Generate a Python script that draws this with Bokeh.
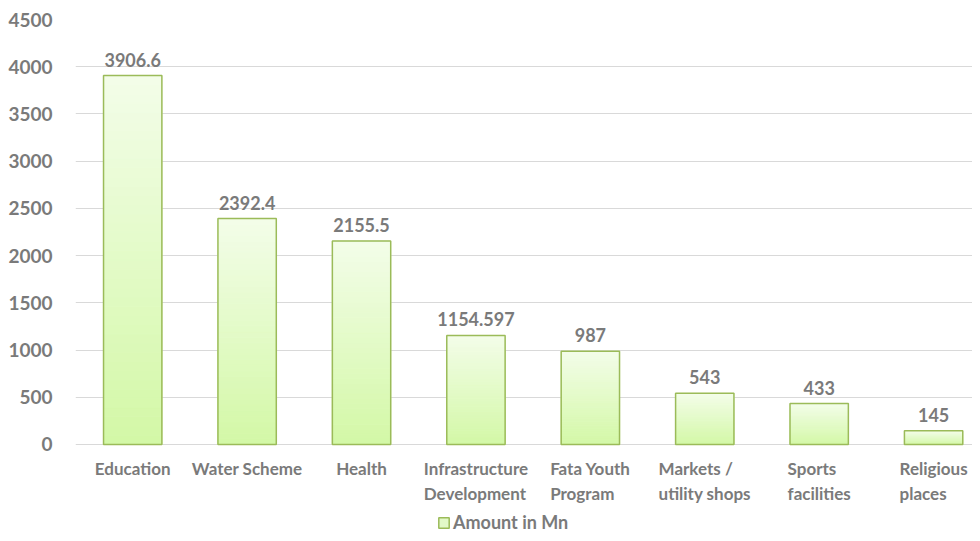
import numpy as np
from bokeh.plotting import figure
from bokeh.models import ColumnDataSource, Range1d, FixedTicker, Legend, LegendItem, LabelSet
from bokeh.core.properties import value
from bokeh.embed import file_html
from bokeh.resources import INLINE

categories = ["Education", "Water Scheme", "Health", "Infrastructure\nDevelopment",
              "Fata Youth\nProgram", "Markets /\nutility shops", "Sports\nfacilities", "Religious\nplaces"]
amounts = [3906.6, 2392.4, 2155.5, 1154.597, 987, 543, 433, 145]
amount_labels = ["3906.6", "2392.4", "2155.5", "1154.597", "987", "543", "433", "145"]
y_ticks = [0, 500, 1000, 1500, 2000, 2500, 3000, 3500, 4000, 4500]

TEXT = "#7a7a7a"
FONT = "Lato"
BAR_W = 0.51
top_rgb = np.array([0xf3, 0xfd, 0xe9])
bot_rgb = np.array([0xd3, 0xf8, 0xa6])

xs = list(range(len(categories)))

# frame runs to the bottom of the figure; the space under 0 holds the category labels and legend
p = figure(width=972, height=533, output_backend="svg", toolbar_location=None,
           x_range=Range1d(-0.5, 7.34), y_range=Range1d(-942.4, 4500),
           min_border_left=75, min_border_top=19, min_border_right=0, min_border_bottom=0)
p.outline_line_color = None
p.background_fill_color = "white"

# gradient bars built from slices of each value
N = 40
gx, gb, gt, gc = [], [], [], []
for i, v in zip(xs, amounts):
    for k in range(N):
        f0, f1 = k / N, (k + 1) / N
        gx.append(i)
        gb.append(v * f0)
        gt.append(v * f1)
        mid = (f0 + f1) / 2
        c = bot_rgb + (top_rgb - bot_rgb) * mid
        gc.append("#%02x%02x%02x" % tuple(int(round(t)) for t in c))
gsrc = ColumnDataSource(dict(x=gx, bottom=gb, top=gt, color=gc))
p.vbar(x="x", bottom="bottom", top="top", width=BAR_W, source=gsrc,
       fill_color="color", line_color="color", line_width=1)

src = ColumnDataSource(dict(x=xs, top=amounts, lab=amount_labels, cat=categories, zero=[0] * len(xs)))
p.vbar(x="x", top="top", bottom=0, width=BAR_W, source=src,
       fill_color=None, line_color="#9bbb59", line_width=1.5)

labels = LabelSet(x="x", y="top", text="lab", source=src, text_align="center",
                  text_baseline="bottom", y_offset=9, text_font=value(FONT),
                  text_font_style="bold", text_font_size="18px", text_color=TEXT)
p.add_layout(labels)

cat_labels = LabelSet(x="x", y="zero", text="cat", source=src, text_align="center",
                      text_baseline="top", y_offset=-14, text_font=value(FONT),
                      text_font_style="bold", text_font_size="17px", text_color=TEXT,
                      text_line_height=1.15)
p.add_layout(cat_labels)

# legend proxy (hidden renderer, only its legend swatch is shown)
leg_r = p.vbar(x="x", top="top", bottom=0, width=BAR_W, source=src,
               fill_color="#e2f9c8", line_color="#9bbb59", line_width=1.5)
leg_r.visible = False
legend = Legend(items=[LegendItem(label="Amount in Mn", renderers=[leg_r])],
                orientation="horizontal", location=(362, 0),
                label_text_font=FONT, label_text_font_style="bold",
                label_text_font_size="18px", label_text_color=TEXT,
                glyph_width=13, glyph_height=13, label_standoff=3,
                border_line_color=None, background_fill_alpha=0,
                inactive_fill_alpha=0, click_policy="none",
                margin=0, padding=0, label_height=18)
p.add_layout(legend, "center")

p.xaxis.visible = False
p.xgrid.grid_line_color = None

p.yaxis.ticker = FixedTicker(ticks=y_ticks)
p.yaxis.axis_line_color = None
p.yaxis.major_tick_line_color = None
p.yaxis.minor_tick_line_color = None
p.yaxis.major_label_standoff = 17
p.yaxis.major_label_text_font = FONT
p.yaxis.major_label_text_font_style = "bold"
p.yaxis.major_label_text_font_size = "19px"
p.yaxis.major_label_text_color = TEXT
p.ygrid.grid_line_color = "#d9d9d9"
p.ygrid.grid_line_width = 1

open("out.html", "w").write(file_html(p, INLINE))
